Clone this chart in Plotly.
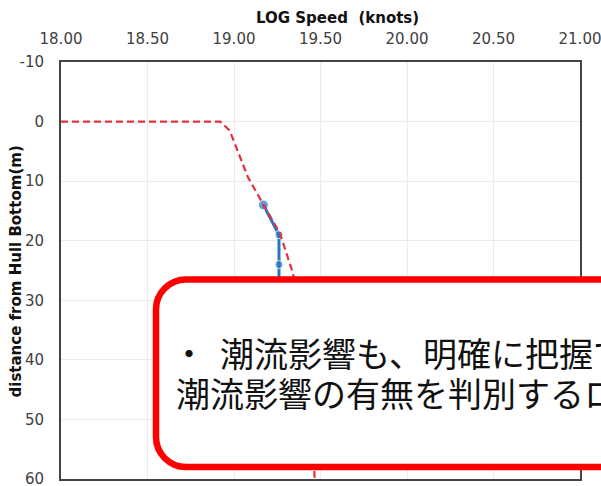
import plotly.graph_objects as go

# ---- data ----
measured_depth = [14, 19, 24, 29]
measured_speed = [19.17, 19.26, 19.26, 19.26]
measured_marker_size = [10, 8, 8, 8]

profile_depth = [0, 0, 1.5, 9.3, 13.7, 18.7, 25.4, 35, 45, 62]
profile_speed = [18.00, 18.92, 18.975, 19.08, 19.165, 19.265, 19.34, 19.40, 19.44, 19.47]

x_ticks = [18.0, 18.5, 19.0, 19.5, 20.0, 20.5, 21.0]
y_ticks = [-10, 0, 10, 20, 30, 40, 50, 60]

x_title = "LOG Speed  (knots)"
y_title = "distance from Hull Bottom(m)"
callout_line1_bullet = "・"
callout_line1 = "潮流影響も、明確に把握できない"
callout_line2 = "潮流影響の有無を判別するロジック"

W, H = 601, 486
L, R, T, B = 61, 21, 62, 7
PW, PH = W - L - R, H - T - B


def px(x):
    return (x - L) / PW


def py(y):
    return (H - B - y) / PH


fig = go.Figure()
fig.add_trace(go.Scatter(
    x=measured_speed, y=measured_depth, mode="lines+markers",
    line=dict(color="#2478C6", width=3),
    marker=dict(size=measured_marker_size, color="#2478C6"),
    showlegend=False))
fig.add_trace(go.Scatter(
    x=profile_speed, y=profile_depth, mode="lines",
    line=dict(color="#E0323F", width=2.2, dash="7px,4px"),
    showlegend=False))

# rounded callout box (paper coordinates from pixel geometry)
x0, x1, y0, y1, r = 156, 660, 279.5, 467, 30
k = 0.45
path = (
    f"M {px(x0 + r)},{py(y0)} L {px(x1 - r)},{py(y0)} "
    f"L {px(x1)},{py(y0)} L {px(x1)},{py(y1)} "
    f"L {px(x0 + r)},{py(y1)} "
    f"C {px(x0 + r * k)},{py(y1)} {px(x0)},{py(y1 - r * k)} {px(x0)},{py(y1 - r)} "
    f"L {px(x0)},{py(y0 + r)} "
    f"C {px(x0)},{py(y0 + r * k)} {px(x0 + r * k)},{py(y0)} {px(x0 + r)},{py(y0)} Z"
)
fig.add_shape(type="path", path=path, xref="paper", yref="paper",
              line=dict(color="#FF0000", width=6.5), fillcolor="white", layer="above")

jp_font = dict(family="Noto Sans CJK JP", size=34, color="#111111")
fig.add_annotation(x=px(170), y=py(352), xref="paper", yref="paper", text=callout_line1_bullet,
                   showarrow=False, xanchor="left", yanchor="middle", font=jp_font)
fig.add_annotation(x=px(218), y=py(352), xref="paper", yref="paper", text=callout_line1,
                   showarrow=False, xanchor="left", yanchor="middle", font=jp_font)
fig.add_annotation(x=px(174), y=py(392), xref="paper", yref="paper", text=callout_line2,
                   showarrow=False, xanchor="left", yanchor="middle", font=jp_font)

# axis titles
fig.add_annotation(x=px(337), y=py(18), xref="paper", yref="paper", text=f"<b>{x_title}</b>",
                   showarrow=False, xanchor="center", yanchor="middle",
                   font=dict(family="DejaVu Sans", size=15, color="#111111"))
fig.add_annotation(x=px(15.5), y=py(272), xref="paper", yref="paper", text=f"<b>{y_title}</b>",
                   showarrow=False, xanchor="center", yanchor="middle", textangle=-90,
                   font=dict(family="DejaVu Sans", size=15, color="#111111"))

tick_font = dict(family="DejaVu Sans", size=15, color="#404040")
fig.update_xaxes(range=[18, 21], side="top", tickvals=x_ticks,
                 ticktext=[f"{v:.2f}" for v in x_ticks], tickfont=tick_font,
                 ticklabeloverflow="allow",
                 showgrid=True, gridcolor="#EBEBEB", gridwidth=1, zeroline=False,
                 showline=True, linecolor="#444444", linewidth=2, mirror=True,
                 ticks="outside", ticklen=10, tickcolor="rgba(0,0,0,0)")
fig.update_yaxes(range=[60, -10], tickvals=y_ticks, ticktext=[str(v) for v in y_ticks],
                 tickfont=tick_font, ticklabeloverflow="allow",
                 showgrid=True, gridcolor="#EBEBEB", gridwidth=1, zeroline=False,
                 showline=True, linecolor="#444444", linewidth=2, mirror=True,
                 ticks="outside", ticklen=12, tickcolor="rgba(0,0,0,0)")

fig.update_layout(width=W, height=H, margin=dict(l=L, r=R, t=T, b=B, autoexpand=False),
                  plot_bgcolor="white", paper_bgcolor="white", showlegend=False)

fig.write_html("out.html", config={"displayModeBar": False},
               post_script="document.body.style.margin='0';")
